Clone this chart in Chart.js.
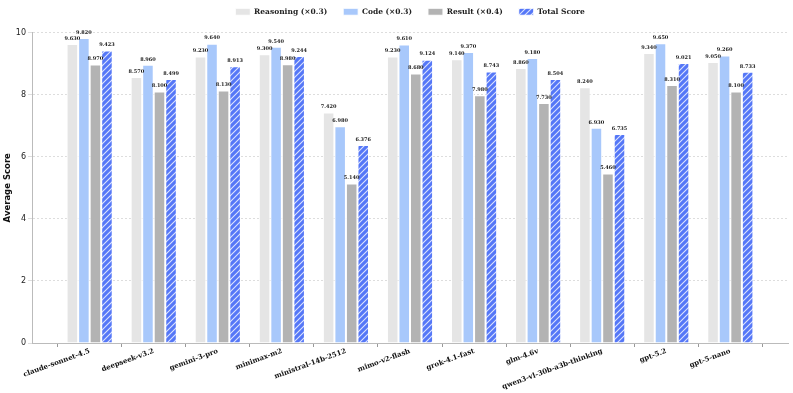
<!DOCTYPE html>
<html>
<head>
<meta charset="utf-8">
<script src="https://cdn.jsdelivr.net/npm/chart.js@4/dist/chart.umd.min.js"></script>
<style>
  html, body { margin: 0; padding: 0; background: #fff; }
  #wrap { width: 793px; height: 393px; position: relative; }
</style>
</head>
<body>
<div id="wrap"><canvas id="myChart"></canvas></div>
<script>
const models = ['claude-sonnet-4.5', 'deepseek-v3.2', 'gemini-3-pro', 'minimax-m2', 'ministral-14b-2512',
    'mimo-v2-flash', 'grok-4.1-fast', 'glm-4.6v', 'qwen3-vl-30b-a3b-thinking', 'gpt-5.2', 'gpt-5-nano'];
const reasoning = [9.630, 8.570, 9.230, 9.300, 7.420, 9.230, 9.140, 8.860, 8.240, 9.340, 9.050];
const code = [9.820, 8.960, 9.640, 9.540, 6.980, 9.610, 9.370, 9.180, 6.930, 9.650, 9.260];
const result = [8.970, 8.100, 8.130, 8.980, 5.140, 8.680, 7.980, 7.730, 5.460, 8.310, 8.100];
const total = [9.423, 8.499, 8.913, 9.244, 6.376, 9.124, 8.743, 8.504, 6.735, 9.021, 8.733];
const yTicks = [0, 2, 4, 6, 8, 10];

// hatch for the total score bars
function hatch() {
    const c = document.createElement('canvas');
    c.width = 6; c.height = 6;
    const g = c.getContext('2d');
    g.fillStyle = '#5577f7';
    g.fillRect(0, 0, 6, 6);
    g.strokeStyle = 'rgba(255,255,255,0.8)';
    g.lineWidth = 1.1;
    g.beginPath();
    g.moveTo(0, 6); g.lineTo(6, 0);
    g.moveTo(-3, 3); g.lineTo(3, -3);
    g.moveTo(3, 9); g.lineTo(9, 3);
    g.stroke();
    return g.createPattern(c, 'repeat');
}

const valueLabels = {
    id: 'valueLabels',
    afterLayout(chart) {
        // center the legend over the plot and lift it a bit, like the original
        const lg = chart.legend;
        lg.left = chart.chartArea.left;
        lg.right = chart.chartArea.right;
        lg.top -= 7;
        lg.bottom -= 7;
    },
    afterDatasetsDraw(chart) {
        const ctx = chart.ctx;
        ctx.save();
        ctx.font = 'bold 5px "DejaVu Serif"';
        ctx.fillStyle = '#222';
        ctx.textAlign = 'center';
        ctx.textBaseline = 'bottom';
        chart.data.datasets.forEach((ds, i) => {
            chart.getDatasetMeta(i).data.forEach((bar, j) => {
                ctx.fillText(ds.data[j].toFixed(3), bar.x, bar.y - 3);
            });
        });
        ctx.restore();
    }
};

const ctx = document.getElementById('myChart');
new Chart(ctx, {
    type: 'bar',
    data: {
        labels: models,
        datasets: [
            { label: 'Reasoning (×0.3)', data: reasoning, backgroundColor: '#e5e5e5' },
            { label: 'Code (×0.3)', data: code, backgroundColor: '#a8c8fb' },
            { label: 'Result (×0.4)', data: result, backgroundColor: '#b3b3b3' },
            { label: 'Total Score', data: total, backgroundColor: hatch() }
        ].map(d => Object.assign(d, {
            borderColor: '#ffffff',
            borderWidth: 1,
            categoryPercentage: 0.72,
            barPercentage: 1.0
        }))
    },
    options: {
        responsive: true,
        maintainAspectRatio: false,
        animation: false,
        layout: { padding: { left: 3, right: 5, top: -1, bottom: 2 } },
        plugins: {
            legend: {
                position: 'top',
                labels: {
                    boxWidth: 15,
                    boxHeight: 7,
                    padding: 16,
                    color: '#222',
                    font: { family: '"DejaVu Serif"', size: 7.5, weight: 'bold' }
                }
            },
            tooltip: { enabled: false }
        },
        scales: {
            x: {
                grid: { display: true, drawOnChartArea: false, tickLength: 4, color: '#999' },
                border: { color: '#bbb' },
                ticks: {
                    minRotation: 20,
                    maxRotation: 20,
                    color: '#111',
                    padding: 0,
                    font: { family: '"DejaVu Serif"', size: 7, weight: 'bold' }
                },
                afterBuildTicks(scale) {
                    // wider side margins than the default half category
                    scale._startValue = -0.9;
                    scale._valueRange = models.length - 1 + 1.8;
                },
                afterFit(scale) { scale.height = 48; scale.paddingLeft = 0; scale.paddingRight = 0; }
            },
            y: {
                min: 0,
                max: 10,
                afterBuildTicks(scale) { scale.ticks = yTicks.map(v => ({ value: v })); },
                afterFit(scale) { scale.width = 29; },
                grid: { color: '#ddd', tickLength: 4, drawTicks: true },
                border: { color: '#bbb', dash: [2, 2] },
                ticks: {
                    color: '#222',
                    padding: 2,
                    font: { family: '"DejaVu Sans"', size: 8 }
                },
                title: {
                    display: true,
                    text: 'Average Score',
                    color: '#111',
                    padding: 0,
                    font: { family: '"DejaVu Sans"', size: 8.5, weight: 'bold' }
                }
            }
        }
    },
    plugins: [valueLabels]
});
</script>
</body>
</html>
